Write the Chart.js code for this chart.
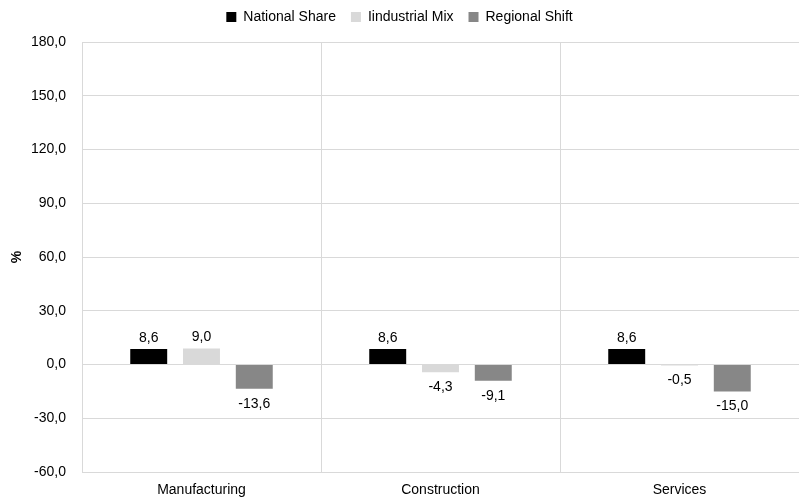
<!DOCTYPE html>
<html>
<head>
<meta charset="utf-8">
<script src="https://cdn.jsdelivr.net/npm/chart.js@4"></script>
<style>
  html, body { margin: 0; padding: 0; background: #fff; }
  #wrap { width: 799px; height: 503px; }
</style>
</head>
<body>
<div id="wrap"><canvas id="c" width="799" height="503"></canvas></div>
<script>
const categories = ["Manufacturing", "Construction", "Services"];
const seriesNames = ["National Share", "Iindustrial Mix", "Regional Shift"];
const nationalShare = [8.6, 8.6, 8.6];
const industrialMix = [9.0, -4.3, -0.5];
const regionalShift = [-13.6, -9.1, -15.0];
const yTicks = { min: -60, max: 180, step: 30 };

const fmt = v => v.toFixed(1).replace('.', ',');

const labelPlugin = {
  id: 'barLabels',
  afterDatasetsDraw(chart) {
    const ctx = chart.ctx;
    ctx.save();
    ctx.font = '14px "Liberation Sans", Arial, sans-serif';
    ctx.fillStyle = '#000000';
    ctx.textAlign = 'center';
    chart.data.datasets.forEach((ds, di) => {
      const meta = chart.getDatasetMeta(di);
      meta.data.forEach((el, i) => {
        const v = ds.data[i];
        if (v >= 0) {
          ctx.textBaseline = 'bottom';
          ctx.fillText(fmt(v), el.x, el.y - 4);
        } else {
          ctx.textBaseline = 'top';
          ctx.fillText(fmt(v), el.x, el.y + 8);
        }
      });
    });
    ctx.restore();
  }
};

const legendSpace = {
  id: 'legendSpace',
  afterInit(chart) {
    const lg = chart.legend;
    if (!lg) return;
    const origFit = lg.fit;
    lg.fit = function () { origFit.call(this); this.height = 42; };
    const origDraw = lg.draw;
    lg.draw = function () {
      const ctx = this.ctx;
      ctx.save();
      ctx.translate(0, -5);
      origDraw.apply(this, arguments);
      ctx.restore();
    };
  }
};

Chart.defaults.font.family = '"Liberation Sans", Arial, sans-serif';
Chart.defaults.color = '#000000';

new Chart(document.getElementById('c'), {
  type: 'bar',
  data: {
    labels: categories,
    datasets: [
      { label: seriesNames[0], data: nationalShare, backgroundColor: '#000000' },
      { label: seriesNames[1], data: industrialMix, backgroundColor: '#d9d9d9' },
      { label: seriesNames[2], data: regionalShift, backgroundColor: '#878787' }
    ]
  },
  options: {
    responsive: false,
    animation: false,
    layout: { padding: 0 },
    datasets: { bar: { categoryPercentage: 0.6625, barPercentage: 0.7 } },
    plugins: {
      legend: {
        position: 'top',
        labels: { boxWidth: 10, boxHeight: 10, font: { size: 14 }, color: '#000', padding: 15 }
      },
      tooltip: { enabled: false }
    },
    scales: {
      x: {
        afterFit(scale) { scale.height = 31; },
        grid: { color: '#d9d9d9', drawTicks: false, offset: true },
        border: { color: '#d9d9d9' },
        ticks: { font: { size: 14 }, color: '#000', padding: 10 }
      },
      y: {
        min: yTicks.min, max: yTicks.max,
        afterFit(scale) { scale.width = 82; },
        grid: { color: '#d9d9d9', drawTicks: false },
        border: { color: '#d9d9d9' },
        ticks: { stepSize: yTicks.step, font: { size: 14 }, color: '#000', padding: 16, callback: v => fmt(v) },
        title: { display: true, text: '%', font: { size: 14, weight: 'bold' }, color: '#000', padding: { top: 9, bottom: 0 } }
      }
    }
  },
  plugins: [labelPlugin, legendSpace]
});
</script>
</body>
</html>
